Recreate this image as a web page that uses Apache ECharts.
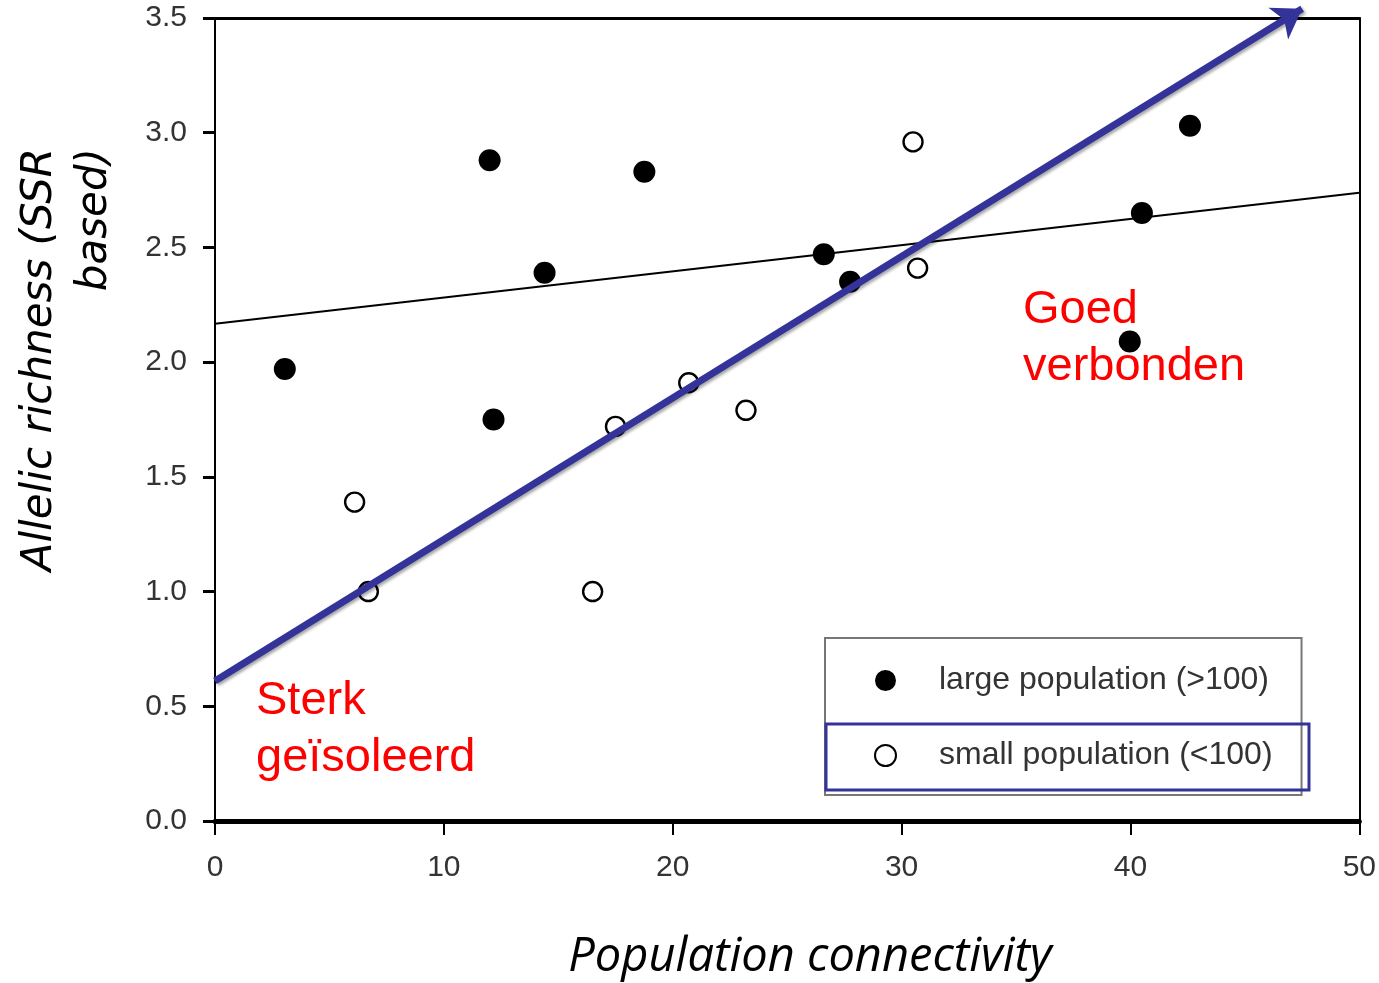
<!DOCTYPE html>
<html>
<head>
<meta charset="utf-8">
<script src="https://cdn.jsdelivr.net/npm/echarts@6/dist/echarts.min.js"></script>
<style>html,body{margin:0;padding:0;background:#fff}#c{width:1379px;height:983px}</style>
</head>
<body>
<div id="c"></div>
<script>
// Data
const largeX = [3.05, 12.0, 12.17, 14.4, 18.76, 26.6, 27.75, 39.97, 40.5, 42.6];
const largeY = [1.97, 2.88, 1.75, 2.39, 2.83, 2.47, 2.35, 2.09, 2.65, 3.03];
const smallX = [6.1, 6.7, 16.5, 17.5, 20.7, 23.2, 30.5, 30.7];
const smallY = [1.39, 1.0, 1.0, 1.72, 1.91, 1.79, 2.96, 2.41];
const fitX = [0, 50];
const fitY = [2.167, 2.738];
const arrowX = [0, 47.5];
const arrowY = [0.61, 3.54];
const xTicks = [0, 10, 20, 30, 40, 50];
const yTicks = [0.0, 0.5, 1.0, 1.5, 2.0, 2.5, 3.0, 3.5];
const seriesNames = ['large population (>100)', 'small population (<100)'];
const xTitle = 'Population connectivity';
const yTitleLines = ['Allelic richness (SSR', 'based)'];
const noteLow = ['Sterk', 'geïsoleerd'];
const noteHigh = ['Goed', 'verbonden'];

const chart = echarts.init(document.getElementById('c'), null, {renderer: 'canvas'});
const zip = (a, b) => a.map((v, i) => [v, b[i]]);
const GRID = {left: 215, right: 18, top: 18, bottom: 162};

const option = {
  animation: false,
  backgroundColor: '#fff',
  grid: GRID,
  xAxis: [{
    type: 'value', min: xTicks[0], max: xTicks[xTicks.length - 1], interval: 10,
    axisLine: {show: true, onZero: false, lineStyle: {color: '#000', width: 5}},
    axisTick: {show: true, inside: false, length: 14, lineStyle: {color: '#000', width: 2}},
    axisLabel: {margin: 32, color: '#333', fontSize: 30, fontFamily: 'Liberation Sans',
      formatter: v => String(v)},
    splitLine: {show: false}
  }, {
    type: 'value', position: 'top', min: 0, max: 50,
    axisLine: {show: true, onZero: false, lineStyle: {color: '#000', width: 3}},
    axisTick: {show: false}, axisLabel: {show: false}, splitLine: {show: false}
  }],
  yAxis: [{
    type: 'value', min: yTicks[0], max: yTicks[yTicks.length - 1], interval: 0.5,
    axisLine: {show: true, onZero: false, lineStyle: {color: '#000', width: 2}},
    axisTick: {show: true, inside: false, length: 12, lineStyle: {color: '#000', width: 3}},
    axisLabel: {margin: 28, color: '#333', fontSize: 30, fontFamily: 'Liberation Sans',
      formatter: v => v.toFixed(1)},
    splitLine: {show: false}
  }, {
    type: 'value', position: 'right', min: 0, max: 3.5,
    axisLine: {show: true, onZero: false, lineStyle: {color: '#000', width: 2}},
    axisTick: {show: false}, axisLabel: {show: false}, splitLine: {show: false}
  }],
  legend: {
    orient: 'vertical', left: 825, top: 638,
    padding: [25, 29, 22, 49], itemGap: 40,
    itemWidth: 21, itemHeight: 21,
    borderColor: '#777', borderWidth: 2, backgroundColor: '#fff',
    textStyle: {fontSize: 32, color: '#333', fontFamily: 'Liberation Sans', padding: [0, 0, 0, 38], lineHeight: 35},
    data: seriesNames
  },
  series: [{
    name: seriesNames[0], type: 'scatter', symbol: 'circle', symbolSize: 22,
    itemStyle: {color: '#000', opacity: 1}, data: zip(largeX, largeY), z: 3
  }, {
    name: seriesNames[1], type: 'scatter', symbol: 'circle', symbolSize: 19,
    itemStyle: {color: '#fff', borderColor: '#000', borderWidth: 2.4, opacity: 1}, data: zip(smallX, smallY), z: 3
  }, {
    name: 'fit', type: 'line', data: zip(fitX, fitY), symbol: 'none',
    lineStyle: {color: '#000', width: 2}, z: 2, silent: true
  }, {
    name: 'arrow', type: 'lines', coordinateSystem: 'cartesian2d', clip: false, z: 4, silent: true,
    symbol: ['none', 'arrow'], symbolSize: [24, 28],
    lineStyle: {color: '#333399', width: 7, opacity: 1, curveness: 0,
      shadowColor: 'rgba(0,0,0,0.35)', shadowBlur: 3, shadowOffsetX: 2, shadowOffsetY: 2},
    data: [{coords: zip(arrowX, arrowY)}]
  }],
  graphic: [
    {type: 'text', x: 256, y: 730, style: {text: noteLow.join('\n'), fill: '#ff0000',
      font: '47px "Liberation Sans"', lineHeight: 57, textVerticalAlign: 'middle'}},
    {type: 'text', x: 1023, y: 339, style: {text: noteHigh.join('\n'), fill: '#ff0000',
      font: '47px "Liberation Sans"', lineHeight: 57, textVerticalAlign: 'middle'}},
    {type: 'rect', shape: {x: 826, y: 724, width: 483, height: 66},
      style: {fill: 'none', stroke: '#333399', lineWidth: 3}, z: 100},
    {type: 'text', x: 810, y: 958, style: {text: xTitle, fill: '#000',
      font: 'italic 47px "Open Sans"', textAlign: 'center', textVerticalAlign: 'middle'}},
    {type: 'text', x: 40, y: 148, rotation: Math.PI / 2, style: {text: yTitleLines[0], fill: '#000',
      font: 'italic 42px "DejaVu Sans"', textAlign: 'right', textVerticalAlign: 'middle'}},
    {type: 'text', x: 95, y: 148, rotation: Math.PI / 2, style: {text: yTitleLines[1], fill: '#000',
      font: 'italic 42px "DejaVu Sans"', textAlign: 'right', textVerticalAlign: 'middle'}}
  ]
};
chart.setOption(option);
</script>
</body>
</html>
